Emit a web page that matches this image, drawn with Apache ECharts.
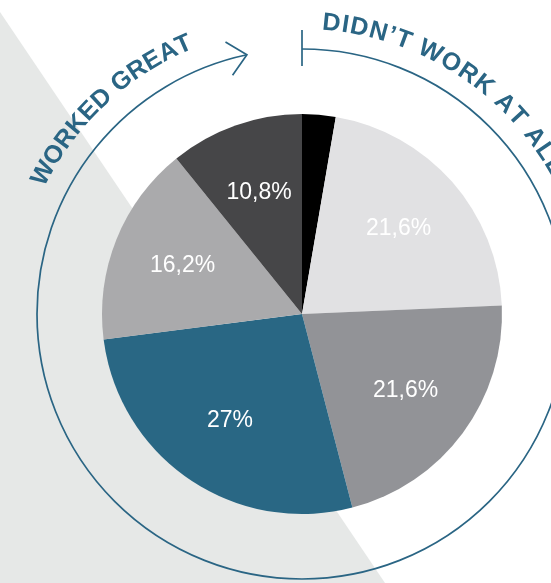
<!DOCTYPE html>
<html>
<head>
<meta charset="utf-8">
<script src="https://cdn.jsdelivr.net/npm/echarts@6/dist/echarts.min.js"></script>
<style>
  html, body { margin: 0; padding: 0; background: #fff; }
  #chart { width: 551px; height: 583px; }
</style>
</head>
<body>
<div id="chart"></div>
<script>
// answers, clockwise from the top
const categories = ['1', '2', '3', '4', '5', '6'];
const shares = [2.7, 21.6, 21.6, 27, 16.2, 10.8];
const colors = ['#000000', '#e1e1e3', '#929397', '#296784', '#aaaaac', '#464648'];
const leftTitle = 'WORKED GREAT';
const rightTitle = 'DIDN\u2019T WORK AT ALL';

const cx = 302, cy = 314, pieR = 200, ringR = 265;
const blue = '#2a6584';
const titleFont = 'bold 25px "Liberation Sans"';

const ctx = document.createElement('canvas').getContext('2d');
ctx.font = titleFont;

// letters laid on a circle: centre of letter 0 at firstDeg, centre of letter lastIdx at lastDeg
function arcLetters(str, firstDeg, lastIdx, lastDeg, r) {
  const chars = [...str];
  const widths = chars.map(ch => ctx.measureText(ch).width);
  let run = widths[0] / 2 + widths[lastIdx] / 2;
  for (let i = 1; i < lastIdx; i++) run += widths[i];
  const spacing = ((lastDeg - firstDeg) * Math.PI / 180 * r - run) / lastIdx;
  const base = firstDeg * Math.PI / 180;
  const out = [];
  let s = -widths[0] / 2;
  chars.forEach((ch, i) => {
    const a = base + (s + widths[i] / 2) / r;
    s += widths[i] + spacing;
    if (ch === ' ') return;
    out.push({
      type: 'text',
      x: cx + r * Math.sin(a),
      y: cy - r * Math.cos(a),
      rotation: -a,
      z: 20,
      style: { text: ch, font: titleFont, fill: blue, align: 'center', verticalAlign: 'middle' }
    });
  });
  return out;
}

const endDeg = 348;
const endA = endDeg * Math.PI / 180;
const tip = [cx + ringR * Math.sin(endA), cy - ringR * Math.cos(endA)];
const back = Math.atan2(-Math.sin(endA), -Math.cos(endA)); // opposite to travel direction
const arm = 25, spread = 43 * Math.PI / 180;
const arrowPts = [
  [tip[0] + arm * Math.cos(back - spread), tip[1] + arm * Math.sin(back - spread)],
  tip,
  [tip[0] + arm * Math.cos(back + spread), tip[1] + arm * Math.sin(back + spread)]
];

const chart = echarts.init(document.getElementById('chart'));
chart.setOption({
  backgroundColor: '#ffffff',
  animation: false,
  graphic: [
    { type: 'polygon', z: 0, shape: { points: [[0, 12], [385, 583], [0, 583]] }, style: { fill: '#e6e8e7' } },
    {
      type: 'arc', z: 10,
      shape: { cx: cx, cy: cy, r: ringR, startAngle: -Math.PI / 2, endAngle: -Math.PI / 2 + endA, clockwise: true },
      style: { stroke: blue, fill: null, lineWidth: 1.7 }
    },
    { type: 'polyline', z: 10, shape: { points: arrowPts }, style: { stroke: blue, fill: null, lineWidth: 1.7 } },
    { type: 'line', z: 10, shape: { x1: cx, y1: 30, x2: cx, y2: 66 }, style: { stroke: blue, lineWidth: 1.7 } },
    ...arcLetters(leftTitle, -61.5, 11, -23.7, 294),
    ...arcLetters(rightTitle, 5.8, 15, 52.7, 292)
  ],
  series: [{
    type: 'pie',
    center: [cx, cy],
    radius: [0, pieR],
    startAngle: 90,
    clockwise: true,
    silent: true,
    itemStyle: { borderWidth: 0 },
    label: {
      show: true,
      position: 'inside',
      color: '#ffffff',
      fontFamily: 'Liberation Sans',
      fontSize: 23,
      formatter: p => String(p.value).replace('.', ',') + '%'
    },
    labelLayout: p => {
      const r = p.labelRect;
      const lx = r.x + r.width / 2 - cx, ly = r.y + r.height / 2 - cy;
      return { dx: lx * 0.25, dy: ly * 0.25 };
    },
    labelLine: { show: false },
    data: shares.map((v, i) => ({
      name: categories[i],
      value: v,
      itemStyle: { color: colors[i] },
      label: { show: i !== 0 }
    }))
  }]
});
</script>
</body>
</html>
